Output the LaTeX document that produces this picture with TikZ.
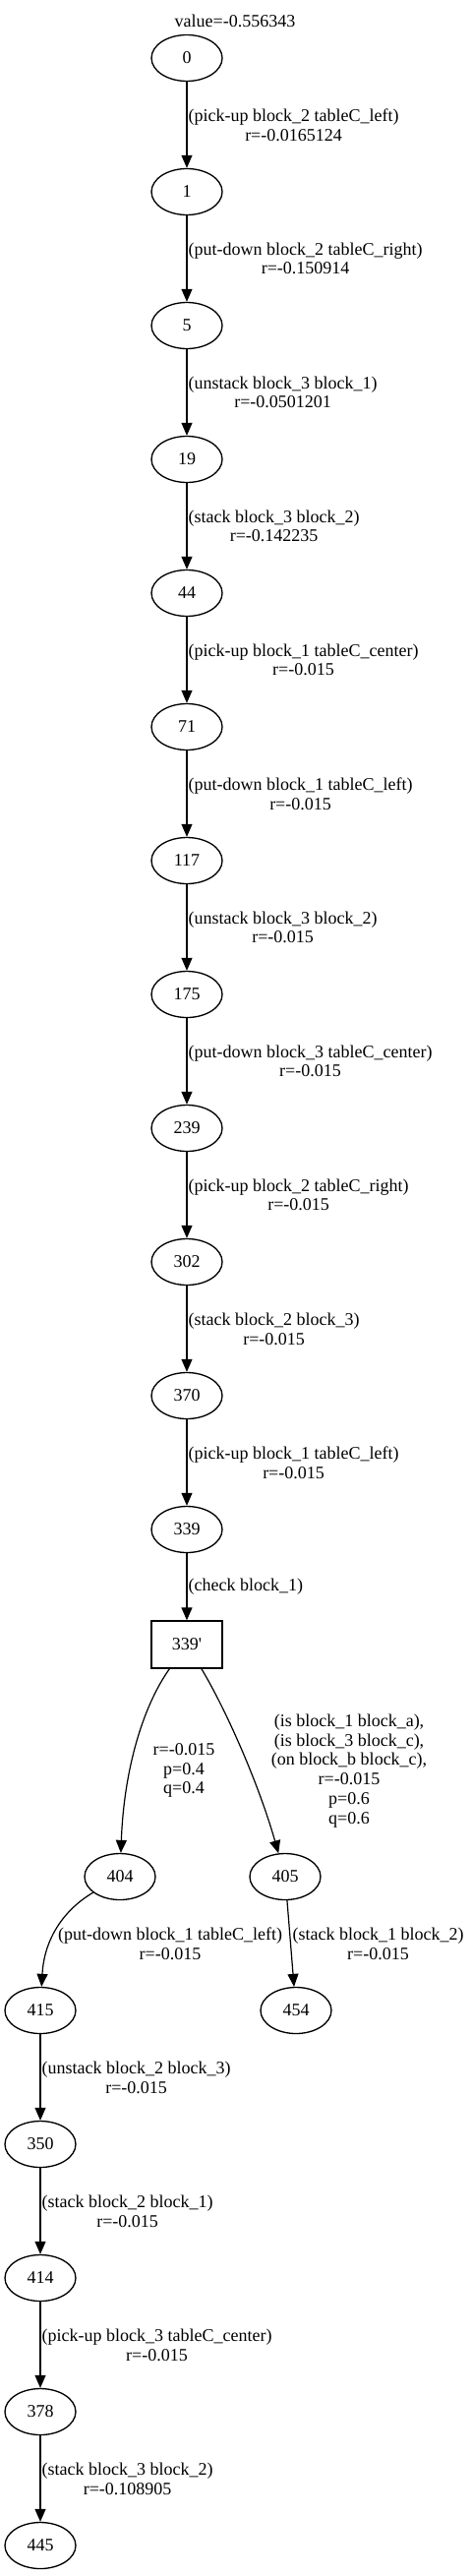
\documentclass[tikz,border=0pt]{standalone}
\usepackage{fontspec}
\setmainfont{Liberation Serif}
\newfontfamily\plainserif{Liberation Serif}
\usetikzlibrary{arrows.meta,shapes.geometric}
\begin{document}
\begin{tikzpicture}[x=0.75pt,y=-0.75pt,
  every node/.style={font=\fontsize{13.5}{14.8}\selectfont},
  st/.style={ellipse,draw,line width=1pt,minimum width=54pt,minimum height=35.25pt,inner sep=0pt},
  chk/.style={rectangle,draw,line width=1pt,minimum width=54pt,minimum height=36pt,inner sep=0pt},
  edge/.style={line width=0.9pt,-{Triangle[length=9.75pt,width=8.25pt]}},
  lab/.style={anchor=west,align=center,inner sep=0pt,xshift=0.75pt},
  flab/.style={align=center,inner sep=0pt}]
\useasboundingbox (0,0) rectangle (479,2619);
\node[flab] (val) at (239,21) {value=-0.556343};
\node[st] (n0) at (190,59) {0};
\node[st] (n1) at (190,195) {1};
\node[st] (n5) at (190,331) {5};
\node[st] (n19) at (190,467) {19};
\node[st] (n44) at (190,603) {44};
\node[st] (n71) at (190,739) {71};
\node[st] (n117) at (190,875) {117};
\node[st] (n175) at (190,1011) {175};
\node[st] (n239) at (190,1147) {239};
\node[st] (n302) at (190,1283) {302};
\node[st] (n370) at (190,1419) {370};
\node[st] (n339) at (190,1555) {339};
\node[chk] (n339p) at (190,1672) {\plainserif 339'};
\node[st] (n404) at (122,1908) {404};
\node[st] (n405) at (290,1908) {405};
\node[st] (n415) at (41,2044) {415};
\node[st] (n454) at (301,2044) {454};
\node[st] (n350) at (41,2180) {350};
\node[st] (n414) at (41,2316) {414};
\node[st] (n378) at (41,2452) {378};
\node[st] (n445) at (41,2588) {445};

\draw[edge] (n0) -- node[lab]{(pick-up block\_2 tableC\_left)\\r=-0.0165124} (n1);
\draw[edge] (n1) -- node[lab]{(put-down block\_2 tableC\_right)\\r=-0.150914} (n5);
\draw[edge] (n5) -- node[lab]{(unstack block\_3 block\_1)\\r=-0.0501201} (n19);
\draw[edge] (n19) -- node[lab]{(stack block\_3 block\_2)\\r=-0.142235} (n44);
\draw[edge] (n44) -- node[lab]{(pick-up block\_1 tableC\_center)\\r=-0.015} (n71);
\draw[edge] (n71) -- node[lab]{(put-down block\_1 tableC\_left)\\r=-0.015} (n117);
\draw[edge] (n117) -- node[lab]{(unstack block\_3 block\_2)\\r=-0.015} (n175);
\draw[edge] (n175) -- node[lab]{(put-down block\_3 tableC\_center)\\r=-0.015} (n239);
\draw[edge] (n239) -- node[lab]{(pick-up block\_2 tableC\_right)\\r=-0.015} (n302);
\draw[edge] (n302) -- node[lab]{(stack block\_2 block\_3)\\r=-0.015} (n370);
\draw[edge] (n370) -- node[lab]{(pick-up block\_1 tableC\_left)\\r=-0.015} (n339);
\draw[edge] (n339) -- node[lab]{(check block\_1)} (n339p);

\draw[edge] (n339p) .. controls (145,1735) and (126,1800) .. (n404);
\draw[edge] (n339p) .. controls (228,1735) and (262,1810) .. (n405);
\node[flab] (l404) at (187,1800) {r=-0.015\\p=0.4\\q=0.4};
\node[flab] (l405) at (355,1800.5) {(is block\_1 block\_a),\\(is block\_3 block\_c),\\(on block\_b block\_c),\\r=-0.015\\p=0.6\\q=0.6};

\draw[edge] (n404) .. controls (66,1941) and (45,1970) .. (n415);
\draw[edge] (n405) -- (n454);
\node[flab] (l415) at (173,1976.5) {(put-down block\_1 tableC\_left)\\r=-0.015};
\node[flab] (l454) at (384.5,1976.5) {(stack block\_1 block\_2)\\r=-0.015};

\draw[edge] (n415) -- node[lab]{(unstack block\_2 block\_3)\\r=-0.015} (n350);
\draw[edge] (n350) -- node[lab]{(stack block\_2 block\_1)\\r=-0.015} (n414);
\draw[edge] (n414) -- node[lab]{(pick-up block\_3 tableC\_center)\\r=-0.015} (n378);
\draw[edge] (n378) -- node[lab]{(stack block\_3 block\_2)\\r=-0.108905} (n445);
\end{tikzpicture}
\end{document}
